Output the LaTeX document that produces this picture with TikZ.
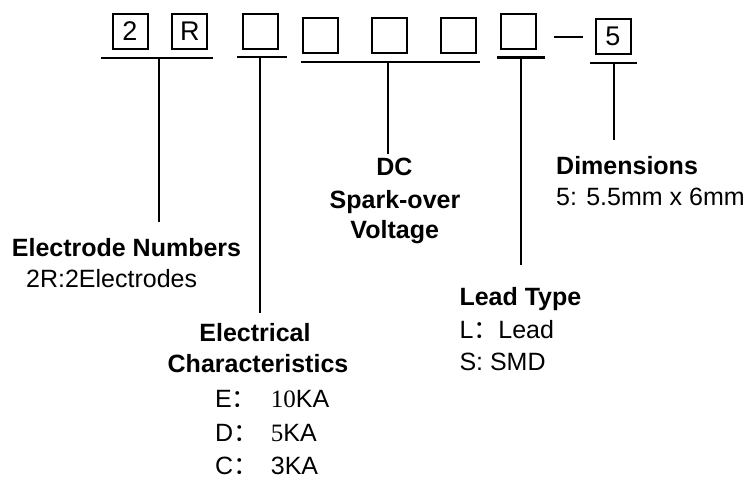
\documentclass[tikz,border=0pt]{standalone}
\usepackage{fontspec}
\setmainfont{Liberation Sans}
\newfontfamily\serifnum{Liberation Serif}
\newfontfamily\cjk{Noto Sans CJK SC}
\begin{document}
\begin{tikzpicture}[x=1pt,y=-1pt,
  every node/.style={font=\fontsize{25}{30}\selectfont, inner sep=0pt},
  digitbox/.style={draw, line width=2pt, fill=white, minimum width=35pt, minimum height=35pt, font=\fontsize{27}{30}\selectfont},
  rule/.style={line width=2.2pt},
  head/.style={font=\fontsize{25}{30}\selectfont\bfseries},
  txt/.style={anchor=base west},
  ]
\useasboundingbox (0,0) rectangle (745,480);

% code boxes
\node[digitbox] (b1) at (130,31.5) {2};
\node[digitbox] (b2) at (189.8,31.5) {R};
\node[digitbox] (b3) at (260.3,31.3) {};
\node[digitbox] (b4) at (320.8,35) {};
\node[digitbox] (b5) at (389.3,35) {};
\node[digitbox] (b6) at (458,35) {};
\node[digitbox] (b7) at (518,31.3) {};
\node[digitbox] (b8) at (613,36.5) {5};

% dash
\coordinate (dl) at (554,37);
\coordinate (dr) at (583,37);
\draw[rule] (dl) -- (dr);

% underlines and stems
\coordinate (u1l) at (101,58);  \coordinate (u1r) at (213,58);  \coordinate (u1m) at (159,58);  \coordinate (s1) at (159,221.5);
\coordinate (u2l) at (237,57);  \coordinate (u2r) at (287,57);  \coordinate (u2m) at (260,57);  \coordinate (s2) at (260,312.5);
\coordinate (u3l) at (301,62);  \coordinate (u3r) at (480,62);  \coordinate (u3m) at (388,62);  \coordinate (s3) at (388,153.5);
\coordinate (u4l) at (497,57.5);\coordinate (u4r) at (545,57.5);\coordinate (u4m) at (521,57.5);\coordinate (s4) at (521,264.5);
\coordinate (u5l) at (590,63);  \coordinate (u5r) at (637,63);  \coordinate (u5m) at (614,63);  \coordinate (s5) at (614,140);
\foreach \i in {1,...,5}{
  \draw[rule] (u\i l) -- (u\i r);
  \draw[rule] (u\i m) -- (s\i);
}

% Electrode numbers
\node[head, txt] (en) at (11.7,256) {Electrode Numbers};
\node[txt] (en1) at (26,287) {2R:2Electrodes};

% Electrical characteristics
\node[head, anchor=base] (ec1) at (255,341) {Electrical};
\node[head, anchor=base] (ec2) at (258,372.3) {Characteristics};
\node[txt] (ek1) at (215,407.3) {E{\cjk ：}};
\node[txt] (ev1) at (270.7,407.3) {{\serifnum 10}KA};
\node[txt] (ek2) at (215,441) {D{\cjk ：}};
\node[txt] (ev2) at (270.7,441) {{\serifnum 5}KA};
\node[txt] (ek3) at (215,474.3) {C{\cjk ：}};
\node[txt] (ev3) at (270.7,474.3) {3KA};

% DC spark-over voltage
\node[head, anchor=base] (dc1) at (394.5,175) {DC};
\node[head, anchor=base] (dc2) at (395,208.3) {Spark-over};
\node[head, anchor=base] (dc3) at (394.7,238.5) {Voltage};

% Lead type
\node[head, txt] (lt) at (459.3,305) {Lead Type};
\node[txt] (lt1) at (459.3,338.3) {L{\cjk ：}Lead};
\node[txt] (lt2) at (459.3,370) {S: SMD};

% Dimensions
\node[head, txt] (dm) at (556,174.3) {Dimensions};
\node[txt] (dm1) at (556,205) {5: 5.5mm x 6mm};
\end{tikzpicture}
\end{document}
